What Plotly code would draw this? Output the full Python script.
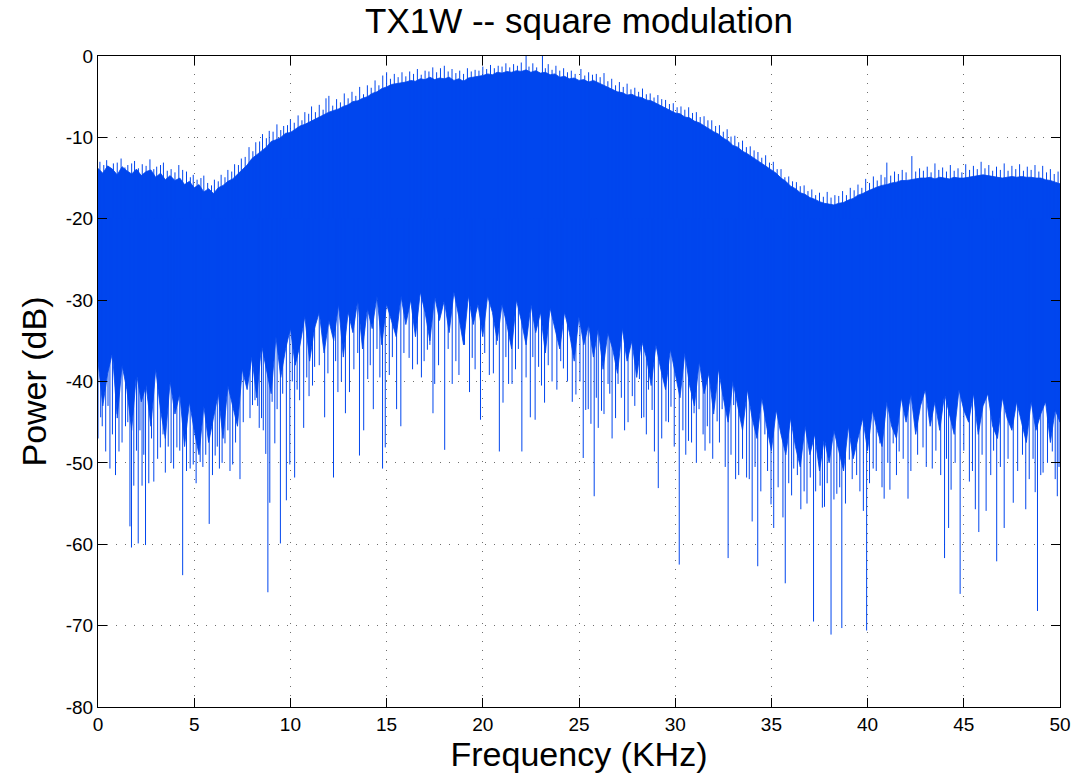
import plotly.graph_objects as go

# ---- spectrum data (frequency in kHz, power in dB) ----
# dense core of the spectrum, sampled every 0.25 kHz (0 .. 50 kHz)
f_env = [i * 0.25 for i in range(201)]

# upper edge of the dense core
top_db = [
    -13.8, -14.4, -13.5, -13.9, -14.6, -13.6, -14.1, -14.5,
    -13.9, -14.7, -14.2, -14.0, -14.9, -14.4, -15.2, -14.7,
    -15.3, -15.0, -15.8, -15.4, -16.2, -15.8, -16.7, -16.3,
    -16.9, -16.2, -15.9, -15.4, -15.1, -14.5, -13.9, -13.4,
    -12.6, -12.1, -11.6, -11.2, -10.5, -10.3, -10.0, -9.5,
    -9.4, -9.0, -8.6, -8.4, -8.1, -7.7, -7.5, -7.1,
    -6.9, -6.7, -6.5, -6.2, -6.0, -5.6, -5.5, -5.2,
    -5.0, -4.6, -4.4, -4.0, -3.8, -3.5, -3.4, -3.3,
    -3.2, -3.0, -3.1, -2.8, -2.9, -2.6, -2.9, -2.7,
    -2.8, -2.6, -3.0, -2.8, -3.1, -2.7, -2.6, -2.5,
    -2.4, -2.2, -2.3, -2.0, -2.1, -1.9, -2.0, -1.8,
    -1.9, -1.7, -2.0, -1.8, -2.1, -2.0, -2.3, -2.2,
    -2.6, -2.5, -2.8, -2.7, -3.0, -2.9, -3.2, -3.0,
    -3.3, -3.5, -3.9, -4.1, -4.4, -4.5, -4.8, -4.7,
    -5.0, -5.1, -5.4, -5.5, -5.8, -6.0, -6.4, -6.6,
    -7.0, -7.1, -7.5, -7.6, -8.0, -8.2, -8.6, -8.9,
    -9.3, -9.6, -10.1, -10.4, -11.0, -11.2, -11.7, -12.0,
    -12.4, -12.7, -13.2, -13.5, -14.0, -14.4, -15.0, -15.4,
    -16.0, -16.3, -16.8, -17.0, -17.4, -17.6, -17.9, -18.1,
    -18.2, -18.3, -18.1, -18.0, -17.7, -17.5, -17.1, -16.9,
    -16.6, -16.3, -16.1, -15.9, -15.8, -15.6, -15.5, -15.3,
    -15.3, -15.2, -15.1, -15.0, -15.0, -14.9, -15.1, -14.9,
    -15.0, -15.1, -14.9, -15.0, -15.0, -14.9, -14.8, -14.7,
    -14.6, -14.7, -14.8, -14.9, -15.0, -14.9, -14.8, -14.9,
    -14.8, -14.9, -14.9, -15.0, -15.0, -15.2, -15.3, -15.5,
    -15.7,
]

# lower edge of the dense core (comb of nulls)
low_db = [
    -37.5, -43.0, -39.0, -36.5, -44.5, -38.0, -41.0, -46.0,
    -39.0, -42.5, -40.5, -45.5, -38.5, -43.5, -47.0, -40.0,
    -44.0, -41.5, -48.0, -42.5, -46.0, -49.0, -43.0, -47.5,
    -44.5, -41.5, -47.0, -40.5, -43.0, -45.5, -38.5, -41.0,
    -37.0, -42.0, -35.5, -38.5, -41.5, -34.5, -39.5, -36.0,
    -33.5, -38.0, -35.5, -32.0, -37.5, -33.5, -31.5, -36.5,
    -32.5, -35.0, -30.5, -37.0, -31.5, -34.0, -30.0, -36.0,
    -31.0, -33.5, -29.5, -35.5, -30.5, -32.5, -34.5, -29.5,
    -33.0, -30.0, -34.5, -29.0, -31.5, -35.0, -29.5, -32.5,
    -30.0, -34.0, -29.0, -32.0, -35.5, -29.5, -33.0, -30.5,
    -34.5, -29.5, -31.5, -35.0, -30.5, -33.0, -36.0, -30.0,
    -32.5, -35.5, -30.5, -34.0, -31.5, -36.5, -31.0, -33.5,
    -36.0, -31.5, -34.0, -37.5, -32.0, -35.5, -33.0, -37.0,
    -33.5, -38.5, -34.0, -36.0, -39.0, -33.5, -37.5, -35.0,
    -39.5, -35.0, -37.0, -40.5, -35.5, -38.5, -41.0, -36.0,
    -39.0, -42.0, -36.5, -40.5, -43.0, -37.5, -41.5, -39.0,
    -44.0, -38.5, -42.0, -45.0, -40.0, -43.0, -46.0, -41.0,
    -44.5, -47.0, -42.0, -45.5, -48.5, -43.5, -46.5, -49.0,
    -44.5, -48.0, -50.5, -45.5, -49.0, -46.5, -51.0, -47.0,
    -50.0, -46.0, -48.5, -51.0, -45.5, -49.5, -47.0, -44.5,
    -48.5, -43.5, -46.0, -48.0, -42.5, -45.5, -47.0, -42.0,
    -45.0, -41.5, -46.5, -43.0, -41.0, -45.5, -42.5, -46.0,
    -41.5, -44.0, -46.5, -41.0, -43.5, -45.0, -41.5, -46.5,
    -43.0, -41.5, -45.5, -47.0, -42.0, -44.5, -46.0, -42.5,
    -45.0, -47.5, -42.5, -46.0, -44.0, -42.5, -47.5, -43.5,
    -45.0,
]

# isolated bins rising above the dense core
peak_f = [
    0.1, 0.45, 0.8, 1.2, 1.55, 1.9, 2.3, 2.7, 3.05, 3.4, 3.8, 4.2, 4.6, 4.95,
    5.35, 5.7, 6.05, 6.4, 6.75, 7.1, 7.45, 7.85, 8.2, 8.55, 8.9, 9.3, 9.65,
    10.0, 10.4, 10.75, 11.1, 11.5, 11.85, 12.0, 12.4, 12.8, 13.2, 13.6, 14.0,
    14.4, 14.8, 15.0, 15.4, 15.8, 16.2, 16.6, 17.0, 17.4, 17.8, 18.0, 18.4,
    18.8, 19.2, 19.6, 20.0, 20.4, 20.8, 21.2, 21.6, 22.0, 22.25, 22.6, 23.1,
    23.4, 23.8, 24.2, 24.6, 25.1, 25.5, 25.9, 26.3, 26.7, 27.1, 27.5, 27.9,
    28.3, 28.7, 29.1, 29.5, 29.9, 30.3, 30.7, 31.1, 31.5, 31.9, 32.3, 32.7,
    33.1, 33.5, 33.9, 34.3, 34.7, 35.1, 35.5, 35.9, 36.3, 36.7, 37.1, 37.5,
    37.9, 38.3, 38.7, 39.1, 39.5, 39.9, 40.3, 40.7, 41.0, 41.4, 41.8, 42.3,
    42.7, 43.1, 43.5, 43.9, 44.3, 44.7, 45.1, 45.5, 45.9, 46.3, 46.7, 47.1,
    47.5, 47.9, 48.3, 48.7, 49.1, 49.5, 49.9,
]
peak_db = [
    -13.0, -12.8, -13.2, -12.6, -13.4, -12.9, -13.3, -12.7, -13.6, -13.1,
    -13.9, -13.4, -14.2, -14.6, -15.0, -15.6, -15.2, -14.6, -14.0, -13.3,
    -12.6, -11.2, -10.6, -9.6, -9.2, -8.4, -8.6, -7.8, -7.3, -6.9,
    -6.2, -6.0, -5.2, -4.9, -5.3, -4.6, -4.4, -3.8, -3.6, -3.0,
    -2.4, -2.0, -2.2, -2.0, -1.9, -1.6, -1.8, -1.4, -1.5, -1.2,
    -1.6, -1.8, -1.5, -1.7, -1.3, -1.1, -1.2, -0.9, -1.0, -0.8,
    0.0, -0.9, 0.0, -1.0, -1.2, -1.5, -1.8, -1.6, -2.0, -2.2,
    -2.1, -2.8, -3.2, -3.4, -3.9, -4.0, -4.6, -4.8, -5.4, -5.8,
    -6.2, -6.3, -6.9, -7.4, -7.9, -8.5, -9.0, -9.8, -10.4, -11.1,
    -11.8, -12.2, -13.0, -13.9, -14.8, -15.5, -15.9, -16.4, -16.8, -16.7,
    -17.1, -16.6, -16.2, -15.8, -15.1, -14.8, -14.6, -13.1, -14.2, -14.0,
    -12.3, -13.8, -13.6, -13.2, -13.7, -13.4, -13.8, -13.3, -13.5, -13.0,
    -13.4, -13.6, -13.2, -13.5, -13.3, -13.6, -13.4, -13.5, -13.9, -14.2,
]

# smaller bins just above the dense core
minor_peak_f = [
    0.3, 0.65, 1.0, 1.4, 1.75, 2.1, 2.5, 2.9, 3.25, 3.6, 4.0, 4.4, 4.8, 5.15,
    5.5, 5.9, 6.25, 6.6, 6.95, 7.3, 7.65, 8.05, 8.4, 8.75, 9.1, 9.5, 9.85,
    10.2, 10.6, 10.95, 11.3, 11.7, 12.2, 12.6, 13.0, 13.4, 13.8, 14.2, 14.6,
    15.2, 15.6, 16.0, 16.4, 16.8, 17.2, 17.6, 18.2, 18.6, 19.0, 19.4, 19.8,
    20.2, 20.6, 21.0, 21.4, 21.8, 22.4, 22.8, 23.25, 23.6, 24.0, 24.4, 24.8,
    25.3, 25.7, 26.1, 26.5, 26.9, 27.3, 27.7, 28.1, 28.5, 28.9, 29.3, 29.7,
    30.1, 30.5, 30.9, 31.3, 31.7, 32.1, 32.5, 32.9, 33.3, 33.7, 34.1, 34.5,
    34.9, 35.3, 35.7, 36.1, 36.5, 36.9, 37.3, 37.7, 38.1, 38.5, 38.9, 39.3,
    39.7, 40.1, 40.5, 40.9, 41.2, 41.6, 42.0, 42.5, 42.9, 43.3, 43.7, 44.1,
    44.5, 44.9, 45.3, 45.7, 46.1, 46.5, 46.9, 47.3, 47.7, 48.1, 48.5, 48.9,
    49.3, 49.7,
]
minor_peak_db = [
    -13.4, -13.9, -13.1, -13.7, -13.2, -13.8, -13.5, -13.9, -13.4, -14.1,
    -14.3, -14.0, -14.9, -15.2, -14.7, -15.9, -15.4, -14.9, -14.2, -13.4,
    -12.4, -11.7, -10.5, -10.1, -9.3, -9.1, -8.5, -8.2, -7.9, -7.1,
    -6.9, -6.6, -6.1, -5.7, -5.2, -4.9, -4.7, -3.9, -3.6, -2.8,
    -2.6, -2.5, -2.2, -2.3, -1.9, -2.0, -1.9, -2.1, -2.2, -1.9,
    -1.8, -1.6, -1.5, -1.3, -1.4, -1.2, -1.3, -1.4, -1.5, -1.7,
    -1.8, -2.0, -2.2, -2.4, -2.3, -2.6, -3.1, -3.6, -3.8, -4.1,
    -4.4, -4.7, -5.1, -5.3, -5.9, -6.3, -6.6, -7.0, -7.5, -7.9,
    -8.6, -9.3, -9.9, -10.6, -11.2, -11.6, -12.5, -13.1, -13.9, -14.9,
    -15.4, -16.0, -16.6, -17.1, -17.3, -17.4, -17.2, -17.1, -16.5, -16.2,
    -15.6, -15.3, -14.9, -14.7, -14.5, -14.3, -14.2, -14.1, -14.3, -14.0,
    -14.2, -14.1, -14.3, -14.0, -13.9, -13.8, -14.1, -14.0, -14.1, -13.9,
    -14.1, -14.0, -14.2, -14.3, -14.5,
]

# deep nulls falling below the dense core
dip_f = [
    0.0, 0.14, 0.4, 0.62, 0.91, 1.09, 1.43, 1.66, 1.74, 1.86, 2.09, 2.29,
    2.47, 2.64, 2.9, 3.24, 3.5, 3.93, 4.1, 4.4, 4.79, 4.95, 5.31, 5.78, 6.09,
    6.31, 6.6, 6.86, 7.0, 7.38, 7.72, 8.03, 8.16, 8.38, 8.59, 8.72, 8.83,
    8.93, 9.19, 9.31, 9.48, 9.79, 9.97, 10.22, 10.48, 10.69, 10.97, 11.26,
    11.78, 12.24, 12.47, 12.86, 13.07, 13.59, 13.81, 14.02, 14.31, 14.79,
    14.93, 15.14, 15.52, 15.74, 16.17, 16.6, 16.81, 17.12, 17.41, 17.5,
    18.02, 18.41, 18.76, 19.31, 19.45, 19.88, 20.34, 20.86, 21.05, 21.34,
    21.52, 22.03, 22.47, 22.72, 22.9, 23.21, 23.6, 24.19, 24.84, 25.22,
    25.48, 25.62, 25.79, 26.0, 26.17, 26.51, 26.72, 27.03, 27.37, 27.77,
    28.14, 28.37, 28.61, 28.92, 29.12, 29.52, 29.78, 30.21, 30.69, 30.98,
    31.24, 31.67, 31.8, 32.18, 32.44, 32.75, 33.04, 33.14, 33.71, 34.0,
    34.29, 34.66, 34.98, 35.12, 35.6, 35.72, 36.16, 36.53, 37.02, 37.19,
    37.53, 37.76, 38.1, 38.4, 38.66, 39.05, 39.43, 39.78, 39.95, 40.29,
    40.64, 40.86, 41.16, 41.33, 41.64, 42.1, 42.88, 43.36, 44.0, 44.21,
    44.34, 44.81, 45.29, 45.6, 45.78, 46.16, 46.71, 47.1, 47.57, 48.22,
    48.71, 48.83, 49.12, 49.6, 49.86,
]
dip_db = [
    -47.0, -44.4, -48.6, -50.7, -51.5, -48.6, -45.5, -57.8, -60.4, -52.8,
    -59.9, -52.8, -60.1, -52.5, -52.3, -48.1, -51.2, -50.7, -48.1, -63.8,
    -50.7, -50.2, -49.9, -57.5, -49.1, -50.7, -47.6, -51.0, -50.2, -52.0,
    -40.3, -42.9, -42.3, -45.7, -46.0, -48.9, -65.9, -54.9, -47.6, -43.4,
    -59.9, -54.6, -50.2, -51.8, -42.3, -45.7, -41.8, -38.2, -44.4, -51.8,
    -41.3, -43.9, -41.3, -49.1, -46.0, -39.7, -43.4, -50.7, -48.1, -39.2,
    -43.4, -45.5, -37.1, -37.9, -39.5, -36.1, -43.9, -40.3, -48.4, -40.3,
    -39.2, -41.3, -37.1, -44.7, -39.2, -48.6, -42.6, -40.3, -40.3, -48.6,
    -44.4, -44.7, -38.2, -42.6, -40.0, -38.4, -41.6, -49.4, -43.4, -45.2,
    -54.1, -45.7, -43.6, -40.3, -47.0, -40.3, -46.0, -41.8, -39.7, -44.4,
    -41.0, -48.6, -53.1, -44.9, -43.1, -62.5, -47.3, -43.9, -43.4, -45.5,
    -47.6, -44.9, -43.4, -61.7, -42.9, -52.0, -51.8, -57.2, -62.7, -46.5,
    -55.1, -58.0, -56.7, -64.8, -50.7, -55.7, -51.8, -69.5, -52.8, -55.4,
    -71.1, -53.8, -70.3, -49.6, -51.5, -55.9, -70.6, -50.7, -47.6, -54.4,
    -53.3, -47.6, -48.6, -54.4, -48.1, -50.7, -61.7, -58.0, -53.3, -66.1,
    -52.3, -55.7, -58.5, -55.9, -62.1, -58.0, -54.9, -55.7, -53.6, -68.2,
    -51.2, -48.6, -54.1,
]

# shallower nulls forming the comb under the core
minor_dip_f = [
    0.22, 0.52, 0.75, 1.0, 1.25, 1.55, 2.0, 2.18, 2.38, 2.78, 3.1, 3.38,
    3.65, 3.8, 4.25, 4.6, 5.1, 5.45, 5.6, 5.95, 6.2, 6.45, 6.75, 7.15, 7.55,
    7.9, 8.3, 8.5, 9.05, 9.6, 10.1, 10.35, 10.85, 11.15, 11.5, 11.95, 12.35,
    12.65, 13.3, 13.5, 14.15, 14.5, 14.65, 15.3, 15.9, 16.35, 16.95, 17.25,
    17.7, 18.2, 18.6, 19.05, 19.6, 20.1, 20.55, 20.7, 21.2, 21.7, 21.85,
    22.25, 22.6, 23.05, 23.4, 23.85, 24.05, 24.4, 24.65, 25.05, 25.35, 25.9,
    26.3, 26.6, 26.9, 27.2, 27.55, 27.9, 28.25, 28.5, 28.8, 29.3, 29.65,
    29.95, 30.4, 30.55, 30.85, 31.1, 31.45, 31.55, 31.95, 32.3, 32.6, 32.9,
    33.3, 33.5, 33.85, 34.15, 34.45, 34.8, 35.35, 35.9, 36.05, 36.35, 36.7,
    36.85, 37.3, 37.65, 37.9, 38.25, 38.55, 38.85, 39.2, 39.6, 40.1, 40.45,
    40.75, 41.05, 41.5, 41.85, 42.25, 42.6, 43.05, 43.55, 43.8, 44.1, 44.55,
    45.0, 45.45, 45.95, 46.4, 46.55, 46.9, 47.3, 47.8, 48.05, 48.4, 48.6,
    49.0, 49.35, 49.75, 49.95,
]
minor_dip_db = [
    -45.5, -43.0, -46.5, -44.0, -47.5, -45.0, -48.5, -46.0, -49.0, -47.0,
    -49.5, -46.5, -48.0, -50.0, -48.5, -51.0, -52.5, -50.5, -49.0, -51.5,
    -48.0, -50.0, -46.0, -47.5, -45.0, -44.5, -43.0, -44.5, -42.5, -41.5,
    -40.0, -41.0, -39.5, -40.5, -38.0, -39.0, -37.5, -40.0, -38.5, -36.5,
    -38.0, -36.0, -39.5, -37.0, -36.5, -38.5, -37.5, -35.5, -38.0, -36.0,
    -37.5, -35.5, -38.5, -36.5, -39.0, -35.5, -37.0, -38.5, -36.0, -39.5,
    -37.0, -40.5, -38.0, -41.0, -37.5, -40.0, -42.5, -40.0, -43.5, -42.0,
    -44.0, -41.5, -44.5, -42.0, -45.0, -43.0, -44.5, -46.5, -43.5, -47.0,
    -45.0, -48.0, -46.0, -49.0, -47.5, -50.0, -46.5, -48.5, -49.5, -47.5,
    -50.5, -49.0, -51.5, -49.5, -52.0, -50.5, -53.5, -51.0, -53.0, -52.5,
    -54.0, -51.5, -53.5, -55.0, -53.5, -55.5, -52.5, -54.5, -53.0, -55.0,
    -52.0, -53.5, -52.5, -51.0, -53.0, -50.0, -51.5, -49.5, -51.0, -49.0,
    -50.5, -48.5, -51.5, -49.5, -50.0, -48.5, -51.0, -49.0, -51.5, -48.5,
    -50.5, -49.5, -51.0, -49.0, -52.0, -49.5, -51.5, -50.0, -52.0, -50.5,
]

# ---- axis ticks ----
x_ticks = [0, 5, 10, 15, 20, 25, 30, 35, 40, 45, 50]
x_tick_text = [str(v) for v in x_ticks]
y_ticks = [0, -10, -20, -30, -40, -50, -60, -70, -80]
y_tick_text = ["0", "-10", "-20", "-30", "-40", "-50", "-60", "-70", "-80"]

BLUE = "#0046ee"
SPIKE_BASE = -20.0  # spikes start inside the dense core

# ---- build traces ----
band_x = f_env + f_env[::-1]
band_y = top_db + low_db[::-1]

bins = (list(zip(peak_f, peak_db)) + list(zip(minor_peak_f, minor_peak_db))
        + list(zip(dip_f, dip_db)) + list(zip(minor_dip_f, minor_dip_db)))
spike_x, spike_y = [], []
for f, v in bins:
    spike_x += [f, f, None]
    spike_y += [SPIKE_BASE, v, None]

fig = go.Figure()
fig.add_trace(go.Scatter(
    x=band_x, y=band_y, mode="lines", fill="toself",
    fillcolor=BLUE, line=dict(color=BLUE, width=0.8),
    hoverinfo="skip", showlegend=False,
))
fig.add_trace(go.Scatter(
    x=spike_x, y=spike_y, mode="lines",
    line=dict(color=BLUE, width=1),
    hoverinfo="skip", showlegend=False,
))

FONT = "Liberation Sans, Arial, Helvetica, sans-serif"
axis_common = dict(
    showline=True, linecolor="black", linewidth=1, mirror="ticks",
    ticks="inside", ticklen=9, tickwidth=1, tickcolor="black",
    showgrid=True, gridcolor="#6e6e6e", gridwidth=1, griddash="1px,8px",
    zeroline=False, tickfont=dict(family=FONT, size=19, color="black"),
)

fig.update_layout(
    width=1083, height=782,
    margin=dict(l=98, r=21, t=56, b=75),
    paper_bgcolor="white", plot_bgcolor="white",
    title=dict(
        text="TX1W -- square modulation",
        font=dict(family=FONT, size=35, color="black"),
        x=0.5, xanchor="center", xref="paper",
        y=1 - 21 / 782, yanchor="middle", yref="container",
    ),
    xaxis=dict(
        range=[0, 50], tickvals=x_ticks, ticktext=x_tick_text,
        title=dict(text="Frequency (KHz)", standoff=6,
                   font=dict(family=FONT, size=34, color="black")),
        **axis_common,
    ),
    yaxis=dict(
        range=[-80, 0], tickvals=y_ticks, ticktext=y_tick_text,
        title=dict(text="Power (dB)", standoff=8,
                   font=dict(family=FONT, size=34, color="black")),
        **axis_common,
    ),
)

fig.write_html("out.html")
